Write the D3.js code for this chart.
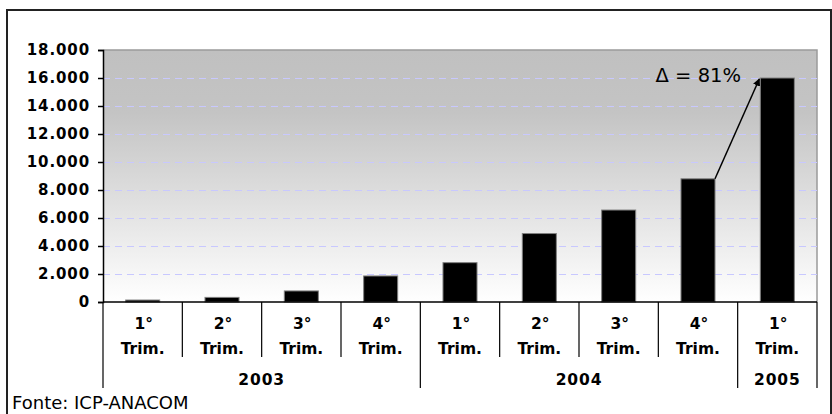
<!DOCTYPE html>
<html>
<head>
<meta charset="utf-8">
<script src="https://cdn.jsdelivr.net/npm/d3@7"></script>
<style>
  body { margin: 0; background: #fff; }
  svg text { font-family: Verdana, "DejaVu Sans", sans-serif; }
</style>
</head>
<body>
<div id="chart"></div>
<script>
// dados (milhares)
var quarters = ['1°', '2°', '3°', '4°', '1°', '2°', '3°', '4°', '1°']
var quarterYears = ['2003', '2003', '2003', '2003', '2004', '2004', '2004', '2004', '2005']
var values = [140, 330, 790, 1860, 2810, 4890, 6570, 8800, 16000]
var years = ['2003', '2004', '2005']
var yearSpans = [4, 4, 1]
var yTicks = [0, 2000, 4000, 6000, 8000, 10000, 12000, 14000, 16000, 18000]
var deltaLabel = 'Δ = 81%'
var sourceLabel = 'Fonte: ICP-ANACOM'

var width = 832
var height = 414
var plot = { left: 103, right: 817, top: 50, bottom: 302 }

var keys = values.map(function (v, i) { return quarterYears[i] + '-' + i })

var svg = d3.select('#chart').append('svg')
  .attr('width', width)
  .attr('height', height)

// gradiente do fundo
var grad = svg.append('defs').append('linearGradient')
  .attr('id', 'bg-grad')
  .attr('x1', 0).attr('y1', 0).attr('x2', 0).attr('y2', 1)
grad.append('stop').attr('offset', '0%').attr('stop-color', '#c0c0c0')
grad.append('stop').attr('offset', '25%').attr('stop-color', '#c4c4c4')
grad.append('stop').attr('offset', '100%').attr('stop-color', '#ffffff')

svg.select('defs').append('marker')
  .attr('id', 'arrow')
  .attr('viewBox', '0 0 10 10')
  .attr('refX', 9).attr('refY', 5)
  .attr('markerWidth', 5).attr('markerHeight', 5)
  .attr('orient', 'auto')
  .append('path')
  .attr('d', 'M0,0L10,5L0,10z')
  .attr('fill', '#000')

// moldura exterior
svg.append('rect')
  .attr('x', 7).attr('y', 10)
  .attr('width', 824).attr('height', 420)
  .attr('fill', 'none')
  .attr('stroke', '#222')
  .attr('stroke-width', 2)

var x = d3.scaleBand()
  .domain(keys)
  .range([plot.left, plot.right])
  .paddingInner(0.571)
  .paddingOuter(0.2855)

var y = d3.scaleLinear()
  .domain([0, 18000])
  .range([plot.bottom, plot.top])

var step = x.step()
var edge = function (i) { return plot.left + i * step }

var fmt = d3.formatLocale({ decimal: ',', thousands: '.', grouping: [3], currency: ['', ''] }).format(',d')

// area do grafico
svg.append('rect')
  .attr('x', plot.left).attr('y', plot.top)
  .attr('width', plot.right - plot.left)
  .attr('height', plot.bottom - plot.top)
  .attr('fill', 'url(#bg-grad)')

svg.append('path')
  .attr('d', 'M' + plot.left + ',' + plot.top + 'H' + plot.right + 'V' + plot.bottom)
  .attr('fill', 'none')
  .attr('stroke', '#9a9a9a')
  .attr('stroke-width', 1.5)

// linhas de grelha
svg.append('g')
  .selectAll('line')
  .data(yTicks.filter(function (d) { return d > 0 && d < 18000 }))
  .enter().append('line')
  .attr('x1', plot.left).attr('x2', plot.right)
  .attr('y1', function (d) { return y(d) + 0.5 })
  .attr('y2', function (d) { return y(d) + 0.5 })
  .attr('stroke', '#c8c8ff')
  .attr('stroke-dasharray', '7,5')

// barras
svg.append('g')
  .selectAll('rect')
  .data(values)
  .enter().append('rect')
  .attr('x', function (d, i) { return x(keys[i]) })
  .attr('y', function (d) { return y(d) })
  .attr('width', x.bandwidth())
  .attr('height', function (d) { return plot.bottom - y(d) })
  .attr('fill', '#000')
  .attr('stroke', '#808080')
  .attr('stroke-width', 1)

// eixo y
var yAxis = svg.append('g')
  .attr('transform', 'translate(' + plot.left + ',0)')
  .call(d3.axisLeft(y).tickValues(yTicks).tickSize(5).tickPadding(8).tickFormat(fmt))
yAxis.select('.domain').attr('stroke', '#000').attr('stroke-width', 1.5)
yAxis.selectAll('.tick line').attr('stroke', '#000').attr('stroke-width', 1.5)
yAxis.selectAll('.tick text')
  .attr('fill', '#000')
  .style('font-size', '15px')
  .style('font-weight', 'bold')
  .style('letter-spacing', '0.9px')

// eixo x
svg.append('line')
  .attr('x1', plot.left).attr('x2', plot.right)
  .attr('y1', plot.bottom).attr('y2', plot.bottom)
  .attr('stroke', '#000').attr('stroke-width', 1.5)

var yearBounds = [0]
yearSpans.forEach(function (s, i) { yearBounds.push(yearBounds[i] + s) })

var sep = svg.append('g').attr('stroke', '#000').attr('stroke-width', 1.2)
d3.range(0, values.length + 1).forEach(function (i) {
  var isYear = yearBounds.indexOf(i) >= 0
  sep.append('line')
    .attr('x1', edge(i)).attr('x2', edge(i))
    .attr('y1', plot.bottom).attr('y2', isYear ? 388 : 357)
})

var labels = svg.append('g')
  .attr('text-anchor', 'middle')
  .style('font-size', '15.5px')
  .style('font-weight', 'bold')
  .attr('fill', '#000')

quarters.forEach(function (q, i) {
  var cx = x(keys[i]) + x.bandwidth() / 2
  labels.append('text').attr('x', cx + 1).attr('y', 329).text(q)
  labels.append('text').attr('x', cx).attr('y', 354).text('Trim.')
})

years.forEach(function (yr, i) {
  var cx = (edge(yearBounds[i]) + edge(yearBounds[i + 1])) / 2
  labels.append('text').attr('x', cx).attr('y', 385)
    .style('letter-spacing', '0.9px')
    .text(yr)
})

// seta de variacao
var last = values.length - 1
svg.append('line')
  .attr('x1', x(keys[last - 1]) + x.bandwidth())
  .attr('y1', y(values[last - 1]))
  .attr('x2', x(keys[last]) - 1)
  .attr('y2', y(values[last]) + 1)
  .attr('stroke', '#000')
  .attr('stroke-width', 1.5)
  .attr('marker-end', 'url(#arrow)')

svg.append('text')
  .attr('x', 741).attr('y', 82)
  .attr('text-anchor', 'end')
  .style('font-size', '19.5px')
  .attr('fill', '#000')
  .text(deltaLabel)

svg.append('text')
  .attr('x', 12).attr('y', 409)
  .style('font-size', '18px')
  .attr('fill', '#000')
  .text(sourceLabel)
</script>
</body>
</html>
